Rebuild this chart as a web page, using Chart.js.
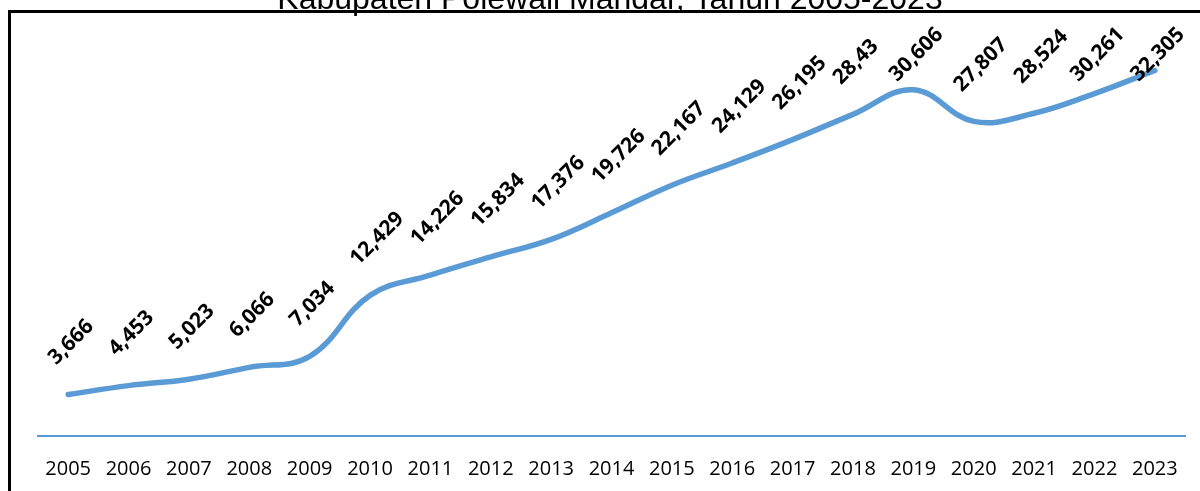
<!DOCTYPE html>
<html>
<head>
<meta charset="utf-8">
<script src="https://cdn.jsdelivr.net/npm/chart.js@4.4.1/dist/chart.umd.min.js"></script>
<style>
  body { margin: 0; background: #fff; }
  #wrap { width: 1200px; height: 491px; }
</style>
</head>
<body>
<div id="wrap"><canvas id="myChart" width="1200" height="491"></canvas></div>
<script>
// data
const years = ['2005', '2006', '2007', '2008', '2009', '2010', '2011', '2012', '2013', '2014',
               '2015', '2016', '2017', '2018', '2019', '2020', '2021', '2022', '2023'];
const values = [3666, 4453, 5023, 6066, 7034, 12429, 14226, 15834, 17376, 19726,
                22167, 24129, 26195, 28430, 30606, 27807, 28524, 30261, 32305];
// label texts as printed on the chart (2018 shows "28,43")
const valueLabels = ['3,666', '4,453', '5,023', '6,066', '7,034', '12,429', '14,226', '15,834', '17,376', '19,726',
                     '22,167', '24,129', '26,195', '28,43', '30,606', '27,807', '28,524', '30,261', '32,305'];
const titleText = 'Kabupaten Polewali Mandar, Tahun 2005-2023';

// frame + clipped title at the top
const framePlugin = {
    id: 'frame',
    beforeDraw(chart) {
        const ctx = chart.ctx;
        ctx.save();
        ctx.strokeStyle = '#000';
        ctx.lineWidth = 3;
        ctx.strokeRect(9.5, 11.5, 1300, 600);
        ctx.fillStyle = '#000';
        ctx.font = '32px "Liberation Sans", Arial, sans-serif';
        ctx.textAlign = 'center';
        ctx.textBaseline = 'alphabetic';
        ctx.fillText(titleText, 610, 9);
        ctx.restore();
    }
};

// rotated value labels above each point
const labelPlugin = {
    id: 'valueLabels',
    afterDatasetsDraw(chart) {
        const ctx = chart.ctx;
        const meta = chart.getDatasetMeta(0);
        ctx.save();
        ctx.font = 'bold 21px "Open Sans", sans-serif';
        ctx.fillStyle = '#000';
        ctx.textAlign = 'left';
        ctx.textBaseline = 'alphabetic';
        const cap = 15;
        meta.data.forEach(function (pt, i) {
            const txt = valueLabels[i];
            const w = ctx.measureText(txt).width;
            const h = (w + cap) * Math.SQRT1_2;
            let ox = pt.x - 12;
            let oy = pt.y - 29;
            if (oy - h < 25) {
                oy = 25 + h;
                ox -= 4;
            }
            ctx.save();
            ctx.translate(ox, oy);
            ctx.rotate(-Math.PI / 4);
            ctx.fillText(txt, 0, 0);
            ctx.restore();
        });
        ctx.restore();
    }
};

function myLoadFunction() {
    const ctx = document.getElementById('myChart').getContext('2d');
    var myChartConfig = {
        type: 'line',
        data: {
            labels: years,
            datasets: [
            {
                label: 'Jumlah',
                data: values,
                borderColor: '#5b9bd5',
                borderWidth: 5.5,
                borderCapStyle: 'round',
                borderJoinStyle: 'round',
                tension: 0.4,
                pointRadius: 0,
                fill: false,
                clip: false
            }
        ]
        },
        options: {
            responsive: false,
            animation: false,
            events: [],
            layout: {
                padding: { left: 38, right: 15, top: 40, bottom: 10 }
            },
            plugins: {
                legend: { display: false },
                tooltip: { enabled: false },
                title: { display: false }
            },
            scales: {
                x: {
                    offset: true,
                    grid: { display: false, drawTicks: true, tickLength: 21 },
                    border: { display: true, color: '#5b9bd5', width: 2 },
                    ticks: {
                        color: '#000',
                        padding: 0,
                        maxRotation: 0,
                        autoSkip: false,
                        font: { family: '"Open Sans", sans-serif', size: 20 }
                    }
                },
                y: {
                    display: false,
                    min: 0,
                    max: 35000
                }
            }
        },
        plugins: [framePlugin, labelPlugin]
    };
    const myChart = new Chart(ctx, myChartConfig);
}

document.addEventListener('DOMContentLoaded', myLoadFunction);
</script>
</body>
</html>
